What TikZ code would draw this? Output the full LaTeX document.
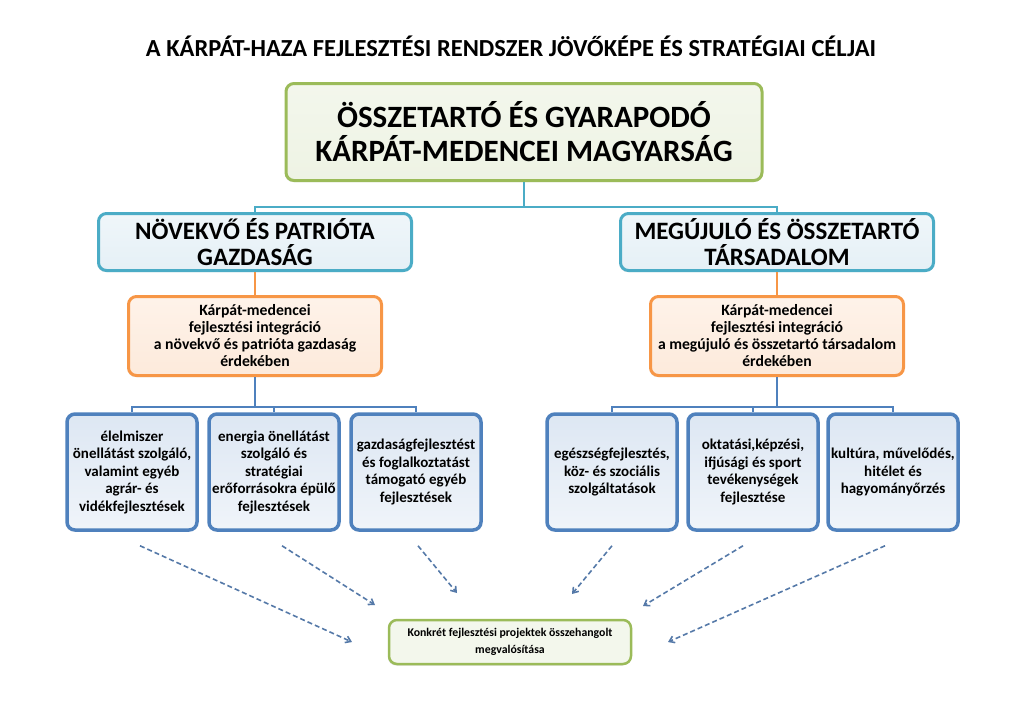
\documentclass[tikz,border=0pt]{standalone}
\usepackage{fontspec}
\setmainfont{Carlito}
\usetikzlibrary{arrows.meta,shadows}
\definecolor{goalline}{HTML}{9BBB59}
\definecolor{goalfill}{HTML}{EEF3E4}
\definecolor{pillarline}{HTML}{4BACC6}
\definecolor{pillarfill}{HTML}{E5F0F6}
\definecolor{integline}{HTML}{F79646}
\definecolor{integfill}{HTML}{FDEADB}
\definecolor{fieldline}{HTML}{4F81BD}
\definecolor{fieldfill}{HTML}{DDE7F3}
\definecolor{arrowcol}{HTML}{5579A8}

\begin{document}
\begin{tikzpicture}[
  x=1pt,
  y=-1pt,
  box/.style={draw, rounded corners=8pt, align=center, inner sep=0pt,
    drop shadow={shadow xshift=-1pt, shadow yshift=-1.5pt, opacity=0.25}},
  goal/.style={box, line width=3pt, draw=goalline, top color=goalfill!70!white, bottom color=goalfill,
    minimum width=476, minimum height=97, font=\fontsize{31}{34}\selectfont\bfseries},
  pillar/.style={box, line width=3pt, draw=pillarline, top color=pillarfill!60!white, bottom color=pillarfill,
    minimum width=313, minimum height=57, font=\fontsize{25}{26}\selectfont\bfseries},
  integ/.style={box, line width=3pt, draw=integline, top color=integfill!60!white, bottom color=integfill,
    minimum width=253, minimum height=79, font=\fontsize{15.7}{17}\selectfont\bfseries},
  field/.style={box, line width=3.5pt, draw=fieldline, top color=fieldfill, bottom color=fieldfill!45!white,
    minimum width=130, minimum height=116, font=\fontsize{15}{17.5}\selectfont\bfseries},
  project/.style={box, line width=2.5pt, draw=goalline, fill=goalfill!70!white,
    minimum width=242, minimum height=44, font=\fontsize{11.8}{17.5}\selectfont\bfseries},
  conn/.style={line width=1.6pt},
  flow/.style={arrowcol, line width=1.6pt, dash pattern=on 5pt off 3pt, -{Straight Barb[length=5pt,width=7pt]}}
]
\useasboundingbox (0,0) rectangle (1024,724);

% title
\node[font=\fontsize{24.5}{28}\selectfont\bfseries] (title) at (511,46)
  {A KÁRPÁT-HAZA FEJLESZTÉSI RENDSZER JÖVŐKÉPE ÉS STRATÉGIAI CÉLJAI};

% vision
\node[goal] (vision) at (524,132) {ÖSSZETARTÓ ÉS GYARAPODÓ\\KÁRPÁT-MEDENCEI MAGYARSÁG};

% two pillars
\node[pillar] (eco) at (255,242) {NÖVEKVŐ ÉS PATRIÓTA\\GAZDASÁG};
\node[pillar] (soc) at (777,242) {MEGÚJULÓ ÉS ÖSSZETARTÓ\\TÁRSADALOM};

\node[integ] (ecoint) at (255,336) {Kárpát-medencei\\fejlesztési integráció\\a növekvő és patrióta gazdaság\\érdekében};
\node[integ] (socint) at (777,336) {Kárpát-medencei\\fejlesztési integráció\\a megújuló és összetartó társadalom\\érdekében};

% fields of development
\node[field] (food) at (132,472) {élelmiszer\\önellátást szolgáló,\\valamint egyéb\\agrár- és\\vidékfejlesztések};
\node[field] (energy) at (274,472) {energia önellátást\\szolgáló és\\stratégiai\\erőforrásokra épülő\\fejlesztések};
\node[field] (jobs) at (416,472) {gazdaságfejlesztést\\és foglalkoztatást\\támogató egyéb\\fejlesztések};
\node[field] (health) at (612,472) {egészségfejlesztés,\\köz- és szociális\\szolgáltatások};
\node[field] (school) at (753,472) {oktatási,képzési,\\ifjúsági és sport\\tevékenységek\\fejlesztése};
\node[field] (culture) at (893,472) {kultúra, művelődés,\\hitélet és\\hagyományőrzés};

\node[project] (proj) at (510,642) {Konkrét fejlesztési projektek összehangolt\\megvalósítása};

% tree lines
\draw[conn, pillarline] (vision.south) -- ++(0,25) -| (eco.north);
\draw[conn, pillarline] (vision.south) -- ++(0,25) -| (soc.north);
\draw[conn, integline] (eco.south) -- (ecoint.north);
\draw[conn, integline] (soc.south) -- (socint.north);
\foreach \f in {food,energy,jobs}
  \draw[conn, fieldline] (ecoint.south) -- ++(0,30) -| (\f.north);
\foreach \f in {health,school,culture}
  \draw[conn, fieldline] (socint.south) -- ++(0,30) -| (\f.north);

% dashed arrows to the projects
\coordinate (in1) at (352,642);
\coordinate (in2) at (375,605);
\coordinate (in3) at (457,593);
\coordinate (in4) at (572,594);
\coordinate (in5) at (643,606);
\coordinate (in6) at (668,642);
\draw[flow] ([xshift=8pt,yshift=-14pt]food.south) -- (in1);
\draw[flow] ([xshift=8pt,yshift=-14pt]energy.south) -- (in2);
\draw[flow] ([xshift=2pt,yshift=-14pt]jobs.south) -- (in3);
\draw[flow] ([xshift=0pt,yshift=-14pt]health.south) -- (in4);
\draw[flow] ([xshift=-10pt,yshift=-14pt]school.south) -- (in5);
\draw[flow] ([xshift=-8pt,yshift=-14pt]culture.south) -- (in6);
\end{tikzpicture}
\end{document}
